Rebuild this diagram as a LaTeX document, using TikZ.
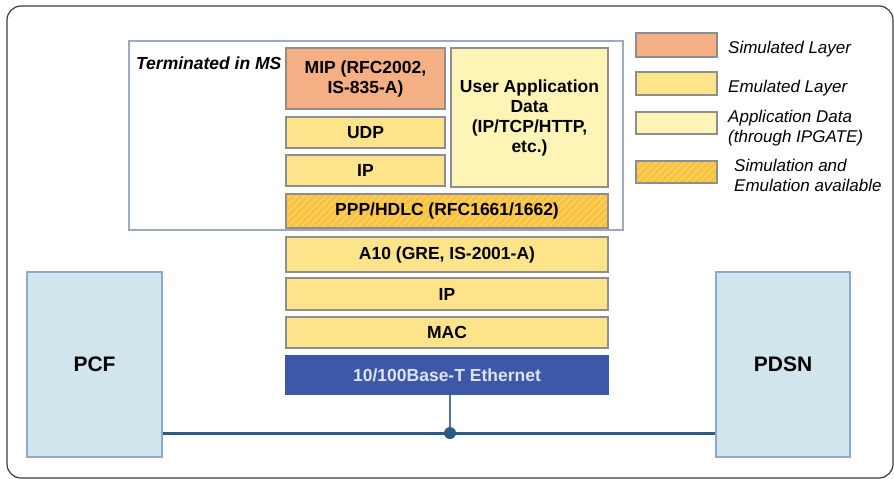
\documentclass[tikz,border=0pt]{standalone}
\usepackage{fontspec}
\setmainfont{Liberation Sans}
\usetikzlibrary{patterns.meta}
\definecolor{salmon}{HTML}{F4AF84}
\definecolor{emu}{HTML}{FDE38A}
\definecolor{appd}{HTML}{FEF4B6}
\definecolor{both}{HTML}{F9C23F}
\definecolor{bothl}{HTML}{FCD46E}
\definecolor{laygray}{HTML}{8E8E8E}
\definecolor{ethblue}{HTML}{3E58A8}
\definecolor{ethtxt}{HTML}{DCE3F2}
\definecolor{netfill}{HTML}{D0E6EC}
\definecolor{netbord}{HTML}{8EA9CB}
\definecolor{msbord}{HTML}{9AAAC4}
\definecolor{busblue}{HTML}{2C5B8A}
\definecolor{framegray}{HTML}{3C3C3C}
\tikzset{
  layer/.style={draw=laygray, line width=1.1pt, inner sep=0pt, align=center,
    font=\fontsize{17.5}{20}\selectfont\bfseries, text=black},
  simlayer/.style={layer, fill=salmon},
  emulayer/.style={layer, fill=emu},
  applayer/.style={layer, fill=appd},
  bothlayer/.style={layer, preaction={fill=both},
    pattern={Lines[angle=45,distance=5pt,line width=1.2pt]}, pattern color=bothl},
  ethlayer/.style={layer, draw=ethblue, fill=ethblue, text=ethtxt},
  netbox/.style={draw=netbord, line width=1.1pt, fill=netfill, inner sep=0pt,
    font=\fontsize{21}{24}\selectfont\bfseries},
  legtxt/.style={anchor=west, align=left, inner sep=0pt,
    font=\fontsize{17}{20}\selectfont\itshape},
  msframe/.style={draw=msbord, line width=1.1pt, inner sep=0pt},
  busline/.style={draw=busblue, line width=3pt},
  dropline/.style={draw=busblue!85, line width=1.2pt}
}
\begin{document}
\begin{tikzpicture}[x=1pt,y=-1pt]
\useasboundingbox (0,0) rectangle (894,479);
\draw[framegray, line width=1.2pt, rounded corners=14pt] (7,6) rectangle (893,478);

% MS frame
\node[msframe, minimum width=494pt, minimum height=189pt] (ms) at (376,135.5) {};
\node[anchor=west, inner sep=0pt, font=\fontsize{17.5}{20}\selectfont\bfseries\itshape] (term) at (136,63) {Terminated in MS};

% layers
\node[simlayer, minimum width=159pt, minimum height=61pt] (mip) at (365.5,78.5) {MIP (RFC2002,\\IS-835-A)};
\node[emulayer, minimum width=159pt, minimum height=31pt] (udp) at (365.5,132.5) {UDP};
\node[emulayer, minimum width=159pt, minimum height=31pt] (ipa) at (365.5,170.5) {IP};
\node[applayer, minimum width=157pt, minimum height=139pt] (uad) at (529.5,117.5) {User Application\\Data\\(IP/TCP/HTTP,\\etc.)};
\node[bothlayer, minimum width=322pt, minimum height=34pt] (ppp) at (447,211) {PPP/HDLC (RFC1661/1662)};
\node[emulayer, minimum width=322pt, minimum height=35pt] (a10) at (447,254.5) {A10 (GRE, IS-2001-A)};
\node[emulayer, minimum width=322pt, minimum height=32pt] (ipb) at (447,294) {IP};
\node[emulayer, minimum width=322pt, minimum height=31pt] (mac) at (447,332.5) {MAC};
\node[ethlayer, minimum width=322pt, minimum height=38pt] (eth) at (447,375) {10/100Base-T Ethernet};

% network elements
\node[netbox, minimum width=135pt, minimum height=185pt] (pcf) at (94.5,364.5) {PCF};
\node[netbox, minimum width=134pt, minimum height=185pt] (pdsn) at (783,364.5) {PDSN};

% bus
\coordinate (bus) at (450,433);
\draw[busline] (pcf.east |- bus) -- (pdsn.west |- bus);
\draw[dropline] (eth.south -| bus) -- (bus);
\fill[busblue] (bus) circle (6pt);

% legend
\node[simlayer, minimum width=81pt, minimum height=24pt] (lsim) at (676.5,45) {};
\node[emulayer, minimum width=81pt, minimum height=23pt] (lemu) at (676.5,83.5) {};
\node[applayer, minimum width=81pt, minimum height=22pt] (lapp) at (676.5,123) {};
\node[bothlayer, minimum width=81pt, minimum height=22pt] (lboth) at (676.5,172) {};
\node[legtxt] (tsim) at (728,49) {Simulated Layer};
\node[legtxt] (temu) at (728,88) {Emulated Layer};
\node[legtxt] (tapp) at (728,128) {Application Data\\(through IPGATE)};
\node[legtxt] (tboth) at (734,175) {Simulation and\\Emulation available};
\end{tikzpicture}
\end{document}
